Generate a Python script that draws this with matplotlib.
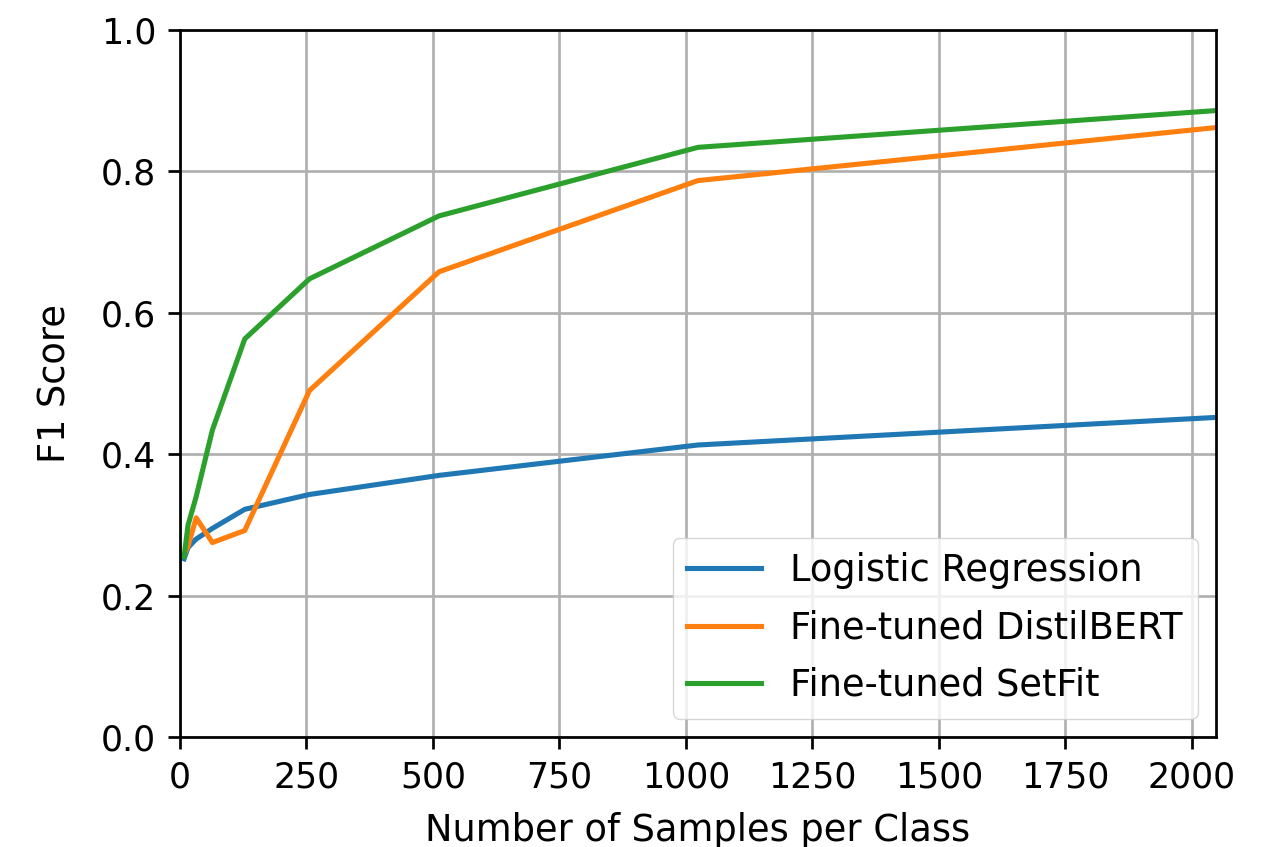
import matplotlib
matplotlib.use("Agg")
import matplotlib.pyplot as plt

# samples per class and F1 scores for each model
samples = [8, 16, 32, 64, 128, 256, 512, 1024, 2048]
f1_logreg = [0.252, 0.268, 0.28, 0.295, 0.322, 0.343, 0.37, 0.413, 0.452]
f1_distilbert = [0.258, 0.27, 0.31, 0.275, 0.292, 0.49, 0.658, 0.787, 0.862]
f1_setfit = [0.255, 0.3, 0.34, 0.434, 0.563, 0.648, 0.737, 0.834, 0.886]

s = 2.45  # scale for everything
plt.rcParams.update({
    "font.size": 10 * s,
    "xtick.labelsize": 25,
    "ytick.labelsize": 25,
    "axes.labelsize": 26.5,
    "legend.fontsize": 26.5,
    "axes.linewidth": 0.8 * s,
    "xtick.major.size": 3.5 * s,
    "ytick.major.size": 3.5 * s,
    "xtick.major.width": 0.8 * s,
    "ytick.major.width": 0.8 * s,
    "xtick.major.pad": 3.5 * s,
    "ytick.major.pad": 3.5 * s,
    "axes.labelpad": 4 * s,
})

fig = plt.figure(figsize=(12.64, 8.47), dpi=100)
ax = fig.add_axes([0.1424, 0.1299, 0.8196, 0.8347])

ax.plot(samples, f1_logreg, color="#1f77b4", lw=1.5 * s, label="Logistic Regression")
ax.plot(samples, f1_distilbert, color="#ff7f0e", lw=1.5 * s, label="Fine-tuned DistilBERT")
ax.plot(samples, f1_setfit, color="#2ca02c", lw=1.5 * s, label="Fine-tuned SetFit")

ax.set_xlim(0, 2048)
ax.set_ylim(0, 1.0)
ax.set_xticks([0, 250, 500, 750, 1000, 1250, 1500, 1750, 2000])
ax.set_yticks([0.0, 0.2, 0.4, 0.6, 0.8, 1.0])
ax.grid(True, color="#b0b0b0", lw=0.8 * s)
ax.set_xlabel("Number of Samples per Class", labelpad=5 * s)
ax.set_ylabel("F1 Score", labelpad=8 * s)
ax.legend(loc="lower right", labelspacing=0.55)

fig.savefig("out.png", dpi=100)
